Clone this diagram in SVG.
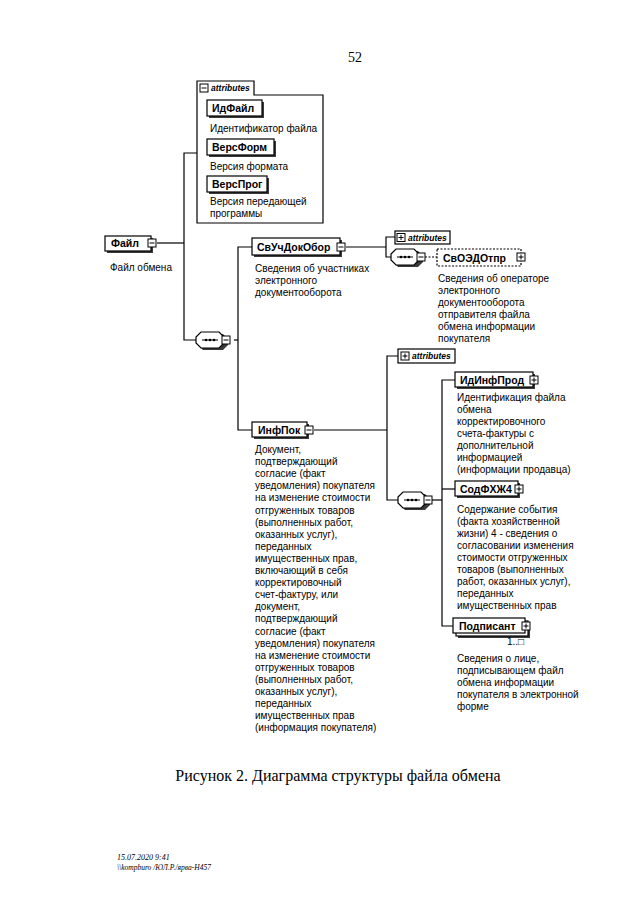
<svg xmlns="http://www.w3.org/2000/svg" width="640" height="905" viewBox="0 0 640 905">
<style>
.box{fill:#fff;stroke:#000;stroke-width:1.2}
.dbox{fill:#fff;stroke:#000;stroke-width:1.2;stroke-dasharray:2,1.5}
.sh{fill:#3a3a3a}
.lbl{font-family:"Liberation Sans",Arial,sans-serif;font-weight:bold;font-size:10.5px;fill:#000}
.d{font-family:"Liberation Sans",Arial,sans-serif;font-size:10px;fill:#000}
.at{font-family:"Liberation Sans",Arial,sans-serif;font-weight:bold;font-style:italic;font-size:8.5px;fill:#000}
.ln{fill:none;stroke:#000;stroke-width:1.2}
.dln{fill:none;stroke:#000;stroke-width:1.2;stroke-dasharray:2,1.5}
.ex{fill:#fff;stroke:#000;stroke-width:1}
.tm{font-family:"Liberation Serif","Times New Roman",serif;fill:#000}
</style>
<defs>
<g id="minus"><rect class="ex" x="-4" y="-4" width="8" height="8"/><path d="M-2.5,0H2.5" stroke="#000" stroke-width="1"/></g>
<g id="plus"><rect class="ex" x="-4" y="-4" width="8" height="8"/><path d="M-2.5,0H2.5M0,-2.5V2.5" stroke="#000" stroke-width="1"/></g>
<g id="seq">
<path class="sh" d="M7,-6 H27 L32,-1 V5 L27,10 H7 L2,5 V-1 Z"/>
<path fill="#fff" stroke="#000" stroke-width="1.2" d="M5,-8 H23 L28,-3 V3 L23,8 H5 L0,3 V-3 Z"/>
<path d="M6,0 H22" stroke="#000" stroke-width="1"/>
<circle cx="10" cy="0" r="1.3"/><circle cx="14" cy="0" r="1.3"/><circle cx="18" cy="0" r="1.3"/>
<use href="#minus" x="30" y="0"/>
</g>
</defs>
<rect width="640" height="905" fill="#fff"/>

<text class="tm" x="355" y="62" font-size="14" text-anchor="middle">52</text>

<g id="connectors">
<path class="ln" d="M157,243 H184"/>
<path class="ln" d="M197,153 H184 V340 H196"/>
<path class="ln" d="M234,340 H238"/>
<path class="ln" d="M252,247 H238 V430 H252"/>
<path class="ln" d="M346,247 H386"/>
<path class="ln" d="M395,237 H386 V257 H391"/>
<path class="dln" d="M425,257 H437"/>
<path class="ln" d="M314,430 H387"/>
<path class="ln" d="M398,356 H387 V500 H398"/>
<path class="ln" d="M432,500 H442"/>
<path class="ln" d="M455,380 H442 V626 H453"/>
<path class="ln" d="M442,489 H455"/>
</g>

<g id="attributes-file">
<path class="box" d="M197,81 H254 V95 H323 V223 H197 Z"/>
<use href="#minus" x="204" y="88"/>
<text class="at" x="211" y="91">attributes</text>
<g id="IdFile">
<rect class="sh" x="209" y="102" width="55" height="16"/>
<rect class="box" x="207" y="100" width="55" height="16"/>
<text class="lbl" x="212" y="112">ИдФайл</text>
<text class="d" x="210" y="132">Идентификатор файла</text>
</g>
<g id="VersForm">
<rect class="sh" x="209" y="141" width="67" height="16"/>
<rect class="box" x="207" y="139" width="67" height="16"/>
<text class="lbl" x="212" y="151">ВерсФорм</text>
<text class="d" x="210" y="170">Версия формата</text>
</g>
<g id="VersProg">
<rect class="sh" x="209" y="178" width="60" height="16"/>
<rect class="box" x="207" y="176" width="60" height="16"/>
<text class="lbl" x="212" y="188">ВерсПрог</text>
<text class="d" x="210" y="205">Версия передающей</text>
<text class="d" x="210" y="217">программы</text>
</g>
</g>

<g id="File">
<rect class="sh" x="107" y="238" width="46" height="15"/>
<rect class="box" x="105" y="236" width="46" height="15"/>
<text class="lbl" x="111" y="247">Файл</text>
<use href="#minus" x="152" y="243"/>
<text class="d" x="110" y="271">Файл обмена</text>
</g>

<g id="seq1"><use href="#seq" x="196" y="340"/></g>

<g id="SvUchDokObor">
<rect class="sh" x="254" y="240" width="88" height="17"/>
<rect class="box" x="252" y="238" width="88" height="17"/>
<text class="lbl" x="257" y="251">СвУчДокОбор</text>
<use href="#minus" x="341" y="247"/>
<text class="d" x="255" y="272">Сведения об участниках</text>
<text class="d" x="255" y="284">электронного</text>
<text class="d" x="255" y="296">документооборота</text>
</g>

<g id="attributes-svuch">
<rect class="box" x="395" y="231" width="55" height="13"/>
<use href="#plus" x="401" y="237.5"/>
<text class="at" x="408" y="241">attributes</text>
</g>

<g id="seq2"><use href="#seq" x="391" y="257"/></g>

<g id="SvOEDOtpr">
<rect class="dbox" x="437" y="249" width="84" height="17"/>
<text class="lbl" x="443" y="262">СвОЭДОтпр</text>
<use href="#plus" x="521" y="257"/>
<text class="d" x="438" y="282">Сведения об операторе</text>
<text class="d" x="438" y="294">электронного</text>
<text class="d" x="438" y="306">документооборота</text>
<text class="d" x="438" y="318">отправителя файла</text>
<text class="d" x="438" y="330">обмена информации</text>
<text class="d" x="438" y="342">покупателя</text>
</g>

<g id="InfPok">
<rect class="sh" x="254" y="424" width="55" height="15"/>
<rect class="box" x="252" y="422" width="55" height="15"/>
<text class="lbl" x="258" y="434">ИнфПок</text>
<use href="#minus" x="309" y="430"/>
<text class="d" x="255" y="453">Документ,<tspan x="255" dy="12.1">подтверждающий</tspan><tspan x="255" dy="12.1">согласие (факт</tspan><tspan x="255" dy="12.1">уведомления) покупателя</tspan><tspan x="255" dy="12.1">на изменение стоимости</tspan><tspan x="255" dy="12.1">отгруженных товаров</tspan><tspan x="255" dy="12.1">(выполненных работ,</tspan><tspan x="255" dy="12.1">оказанных услуг),</tspan><tspan x="255" dy="12.1">переданных</tspan><tspan x="255" dy="12.1">имущественных прав,</tspan><tspan x="255" dy="12.1">включающий в себя</tspan><tspan x="255" dy="12.1">корректировочный</tspan><tspan x="255" dy="12.1">счет-фактуру, или</tspan><tspan x="255" dy="12.1">документ,</tspan><tspan x="255" dy="12.1">подтверждающий</tspan><tspan x="255" dy="12.1">согласие (факт</tspan><tspan x="255" dy="12.1">уведомления) покупателя</tspan><tspan x="255" dy="12.1">на изменение стоимости</tspan><tspan x="255" dy="12.1">отгруженных товаров</tspan><tspan x="255" dy="12.1">(выполненных работ,</tspan><tspan x="255" dy="12.1">оказанных услуг),</tspan><tspan x="255" dy="12.1">переданных</tspan><tspan x="255" dy="12.1">имущественных прав</tspan><tspan x="255" dy="12.1">(информация покупателя)</tspan></text>
</g>

<g id="attributes-infpok">
<rect class="box" x="398" y="349" width="57" height="14"/>
<use href="#plus" x="405" y="356"/>
<text class="at" x="412" y="359">attributes</text>
</g>

<g id="seq3"><use href="#seq" x="398" y="500"/></g>

<g id="IdInfProd">
<rect class="sh" x="457" y="374" width="78" height="15"/>
<rect class="box" x="455" y="372" width="78" height="15"/>
<text class="lbl" x="460" y="384">ИдИнфПрод</text>
<use href="#plus" x="534" y="380"/>
<text class="d" x="457" y="401">Идентификация файла<tspan x="457" dy="12">обмена</tspan><tspan x="457" dy="12">корректировочного</tspan><tspan x="457" dy="12">счета-фактуры с</tspan><tspan x="457" dy="12">дополнительной</tspan><tspan x="457" dy="12">информацией</tspan><tspan x="457" dy="12">(информации продавца)</tspan></text>
</g>

<g id="SodFHZh4">
<rect class="sh" x="457" y="483" width="63" height="15"/>
<rect class="box" x="455" y="481" width="63" height="15"/>
<text class="lbl" x="460" y="493">СодФХЖ4</text>
<use href="#plus" x="519" y="489"/>
<text class="d" x="457" y="513">Содержание события<tspan x="457" dy="12">(факта хозяйственной</tspan><tspan x="457" dy="12">жизни) 4 - сведения о</tspan><tspan x="457" dy="12">согласовании изменения</tspan><tspan x="457" dy="12">стоимости отгруженных</tspan><tspan x="457" dy="12">товаров (выполненных</tspan><tspan x="457" dy="12">работ, оказанных услуг),</tspan><tspan x="457" dy="12">переданных</tspan><tspan x="457" dy="12">имущественных прав</tspan></text>
</g>

<g id="Podpisant">
<rect class="sh" x="458" y="623" width="72" height="15"/>
<rect class="box" x="456" y="621" width="72" height="15"/>
<rect class="box" x="453" y="618" width="72" height="15"/>
<text class="lbl" x="459" y="630">Подписант</text>
<use href="#plus" x="526" y="626"/>
<text class="d" x="507" y="645">1..□</text>
<text class="d" x="457" y="662">Сведения о лице,<tspan x="457" dy="12">подписывающем файл</tspan><tspan x="457" dy="12">обмена информации</tspan><tspan x="457" dy="12">покупателя в электронной</tspan><tspan x="457" dy="12">форме</tspan></text>
</g>

<text class="tm" x="338" y="781" font-size="16" text-anchor="middle">Рисунок 2. Диаграмма структуры файла обмена</text>

<text class="tm" x="117" y="860" font-size="8" font-style="italic">15.07.2020 9:41</text>
<text class="tm" x="117" y="870" font-size="7.5" font-style="italic">\\kompburo /ЮЛ.Р./ярва-Н457</text>
</svg>
